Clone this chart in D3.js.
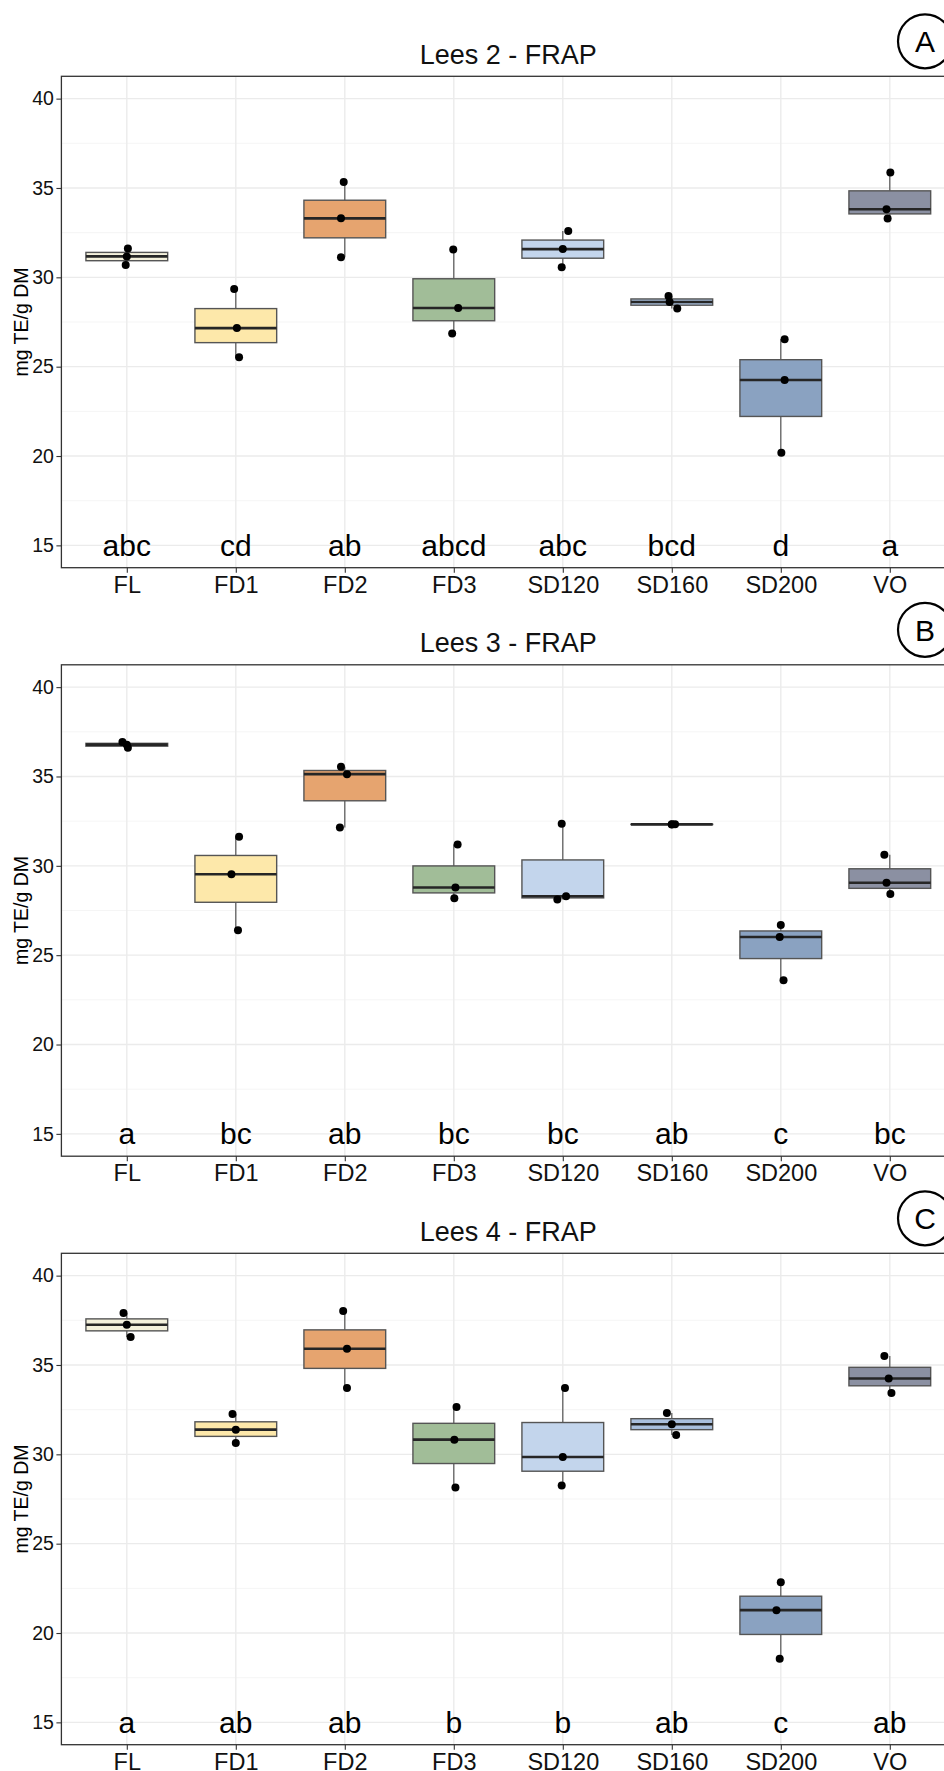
<!DOCTYPE html>
<html>
<head>
<meta charset="utf-8">
<script src="https://cdn.jsdelivr.net/npm/d3@7"></script>
<style>
  html, body { margin: 0; padding: 0; background: #fff; overflow: hidden; }
  svg { display: block; }
</style>
</head>
<body>
<div id="root"></div>
<script>
// groups on the x axis
const categories = ["FL", "FD1", "FD2", "FD3", "SD120", "SD160", "SD200", "VO"];
const boxFills = ["#f4f1dc", "#fde8aa", "#e6a46f", "#a1bd98", "#c3d5ec", "#a9bfdd", "#8aa2c1", "#8b90a2"];

const panelTitles = ["Lees 2 - FRAP", "Lees 3 - FRAP", "Lees 4 - FRAP"];
const panelTags = ["A", "B", "C"];
const yTicks = [15, 20, 25, 30, 35, 40];
const yMinorTicks = [17.5, 22.5, 27.5, 32.5, 37.5];
const yTitle = "mg TE/g DM";

// three replicates per group (mg TE/g DM)
const lees2Values = [
  [30.69, 31.17, 31.62], [25.53, 27.16, 29.34], [31.12, 33.30, 35.33], [26.86, 28.28, 31.56],
  [30.56, 31.58, 32.59], [28.26, 28.62, 28.96], [20.18, 24.25, 26.53], [33.29, 33.81, 35.87],
];
const lees3Values = [
  [36.61, 36.78, 36.93], [26.39, 29.53, 31.63], [32.15, 35.13, 35.54], [28.18, 28.79, 31.20],
  [28.11, 28.30, 32.36], [32.31, 32.32, 32.33], [23.60, 26.02, 26.69], [28.43, 29.05, 30.62],
];
const lees4Values = [
  [36.57, 37.25, 37.91], [30.63, 31.38, 32.26], [33.71, 35.91, 38.02], [28.15, 30.82, 32.65],
  [28.26, 29.85, 33.71], [31.08, 31.68, 32.31], [18.56, 21.28, 22.84], [33.43, 34.24, 35.50],
];

// horizontal jitter of each point, in category widths
const lees2Jitter = [
  [-0.01, 0, 0.01], [0.03, 0.01, -0.015], [-0.035, -0.035, -0.01], [-0.015, 0.04, -0.005],
  [-0.01, 0, 0.05], [0.05, -0.02, -0.03], [0.005, 0.035, 0.035], [-0.02, -0.03, 0.005],
];
const lees3Jitter = [
  [0.01, 0, -0.04], [0.02, -0.04, 0.03], [-0.045, 0.02, -0.035], [0.005, 0.015, 0.035],
  [-0.05, 0.03, -0.01], [0, 0.03, 0], [0.025, -0.01, 0], [0.005, -0.03, -0.05],
];
const lees4Jitter = [
  [0.035, 0, -0.03], [0, 0, -0.03], [0.02, 0.02, -0.015], [0.015, 0.005, 0.025],
  [-0.01, 0, 0.02], [0.04, 0, -0.045], [-0.01, -0.04, 0], [0.015, -0.01, -0.05],
];

// significance letters, printed at y = 15
const lees2Letters = ["abc", "cd", "ab", "abcd", "abc", "bcd", "d", "a"];
const lees3Letters = ["a", "bc", "ab", "bc", "bc", "ab", "c", "bc"];
const lees4Letters = ["a", "ab", "ab", "b", "b", "ab", "c", "ab"];
const letterLevel = 15;

const panels = [
  { title: panelTitles[0], tag: panelTags[0], values: lees2Values, jitter: lees2Jitter, letters: lees2Letters },
  { title: panelTitles[1], tag: panelTags[1], values: lees3Values, jitter: lees3Jitter, letters: lees3Letters },
  { title: panelTitles[2], tag: panelTags[2], values: lees4Values, jitter: lees4Jitter, letters: lees4Letters },
];

const width = 944;
const height = 1771;
const font = "'Liberation Sans', Arial, sans-serif";
const panelLeft = 61.4;
const panelRight = 955.2;   // the right edge of the plot is cut off by the picture
const panelHeight = 491.4;
const firstTop = 76.3;
const panelStep = 588.5;

const svg = d3.select("#root").append("svg")
  .attr("width", width)
  .attr("height", height)
  .style("font-family", font);

svg.append("rect").attr("width", width).attr("height", height).attr("fill", "#fff");

const x = d3.scalePoint(categories, [panelLeft, panelRight]).padding(0.6);
const boxWidth = x.step() * 0.75;

panels.forEach((panel, i) => {
  const top = firstTop + i * panelStep;
  const bottom = top + panelHeight;
  const y = d3.scaleLinear([13.75, 41.25], [bottom, top]);

  const g = svg.append("g");

  // grid
  g.selectAll(".minor")
    .data(yMinorTicks)
    .join("line")
    .attr("x1", panelLeft).attr("x2", panelRight)
    .attr("y1", d => y(d)).attr("y2", d => y(d))
    .attr("stroke", "#f2f2f2").attr("stroke-width", 0.8);

  g.selectAll(".major")
    .data(yTicks)
    .join("line")
    .attr("x1", panelLeft).attr("x2", panelRight)
    .attr("y1", d => y(d)).attr("y2", d => y(d))
    .attr("stroke", "#ebebeb").attr("stroke-width", 1.4);

  g.selectAll(".vgrid")
    .data(categories)
    .join("line")
    .attr("x1", d => x(d)).attr("x2", d => x(d))
    .attr("y1", top).attr("y2", bottom)
    .attr("stroke", "#ebebeb").attr("stroke-width", 1.4);

  // boxes
  const stats = panel.values.map((vals, k) => {
    const s = vals.slice().sort(d3.ascending);
    return {
      cat: categories[k],
      fill: boxFills[k],
      min: s[0],
      q1: d3.quantile(s, 0.25),
      med: d3.quantile(s, 0.5),
      q3: d3.quantile(s, 0.75),
      max: s[s.length - 1],
    };
  });

  const box = g.selectAll(".box")
    .data(stats)
    .join("g");

  box.append("line")
    .attr("x1", d => x(d.cat)).attr("x2", d => x(d.cat))
    .attr("y1", d => y(d.max)).attr("y2", d => y(d.q3))
    .attr("stroke", "#555").attr("stroke-width", 1.2);

  box.append("line")
    .attr("x1", d => x(d.cat)).attr("x2", d => x(d.cat))
    .attr("y1", d => y(d.q1)).attr("y2", d => y(d.min))
    .attr("stroke", "#555").attr("stroke-width", 1.2);

  box.append("rect")
    .attr("x", d => x(d.cat) - boxWidth / 2)
    .attr("width", boxWidth)
    .attr("y", d => y(d.q3))
    .attr("height", d => Math.max(0, y(d.q1) - y(d.q3)))
    .attr("fill", d => d.fill)
    .attr("stroke", "#555")
    .attr("stroke-width", 1.4);

  box.append("line")
    .attr("x1", d => x(d.cat) - boxWidth / 2).attr("x2", d => x(d.cat) + boxWidth / 2)
    .attr("y1", d => y(d.med)).attr("y2", d => y(d.med))
    .attr("stroke", "#262626").attr("stroke-width", 2.6);

  // points
  const points = panel.values.flatMap((vals, k) =>
    vals.map((v, j) => ({ cat: categories[k], value: v, jitter: panel.jitter[k][j] })));

  g.selectAll(".pt")
    .data(points)
    .join("circle")
    .attr("cx", d => x(d.cat) + d.jitter * x.step())
    .attr("cy", d => y(d.value))
    .attr("r", 4)
    .attr("fill", "#000");

  // letters
  g.selectAll(".letter")
    .data(panel.letters)
    .join("text")
    .attr("x", (d, k) => x(categories[k]))
    .attr("y", y(letterLevel) + 10.5)
    .attr("text-anchor", "middle")
    .attr("font-size", 30)
    .attr("fill", "#000")
    .text(d => d);

  // panel border
  g.append("rect")
    .attr("x", panelLeft).attr("y", top)
    .attr("width", panelRight - panelLeft).attr("height", panelHeight)
    .attr("fill", "none")
    .attr("stroke", "#333").attr("stroke-width", 1.3);

  // y axis
  const yAxis = g.append("g")
    .attr("transform", `translate(${panelLeft},0)`)
    .call(d3.axisLeft(y).tickValues(yTicks).tickSize(5).tickPadding(2.5));
  yAxis.select(".domain").remove();
  yAxis.selectAll("line").attr("stroke", "#333").attr("stroke-width", 1.1);
  yAxis.selectAll("text")
    .attr("font-size", 19.5)
    .attr("font-family", font)
    .attr("fill", "#111");

  // x axis
  const xAxis = g.append("g")
    .attr("transform", `translate(0,${bottom})`)
    .call(d3.axisBottom(x).tickSize(5).tickPadding(3.5));
  xAxis.select(".domain").remove();
  xAxis.selectAll("line").attr("stroke", "#333").attr("stroke-width", 1.1);
  xAxis.selectAll("text")
    .attr("font-size", 23.5)
    .attr("font-family", font)
    .attr("fill", "#111");

  // y title
  g.append("text")
    .attr("transform", `translate(28,${(top + bottom) / 2}) rotate(-90)`)
    .attr("text-anchor", "middle")
    .attr("font-size", 19.5)
    .attr("fill", "#000")
    .text(yTitle);

  // title
  g.append("text")
    .attr("x", (panelLeft + panelRight) / 2)
    .attr("y", top - 12.5)
    .attr("text-anchor", "middle")
    .attr("font-size", 27)
    .attr("fill", "#111")
    .text(panel.title);

  // circled tag
  g.append("circle")
    .attr("cx", 925).attr("cy", top - 35)
    .attr("r", 27)
    .attr("fill", "#fff")
    .attr("stroke", "#000").attr("stroke-width", 2.2);

  g.append("text")
    .attr("x", 925).attr("y", top - 35 + 11)
    .attr("text-anchor", "middle")
    .attr("font-size", 30)
    .attr("fill", "#000")
    .text(panel.tag);
});
</script>
</body>
</html>
